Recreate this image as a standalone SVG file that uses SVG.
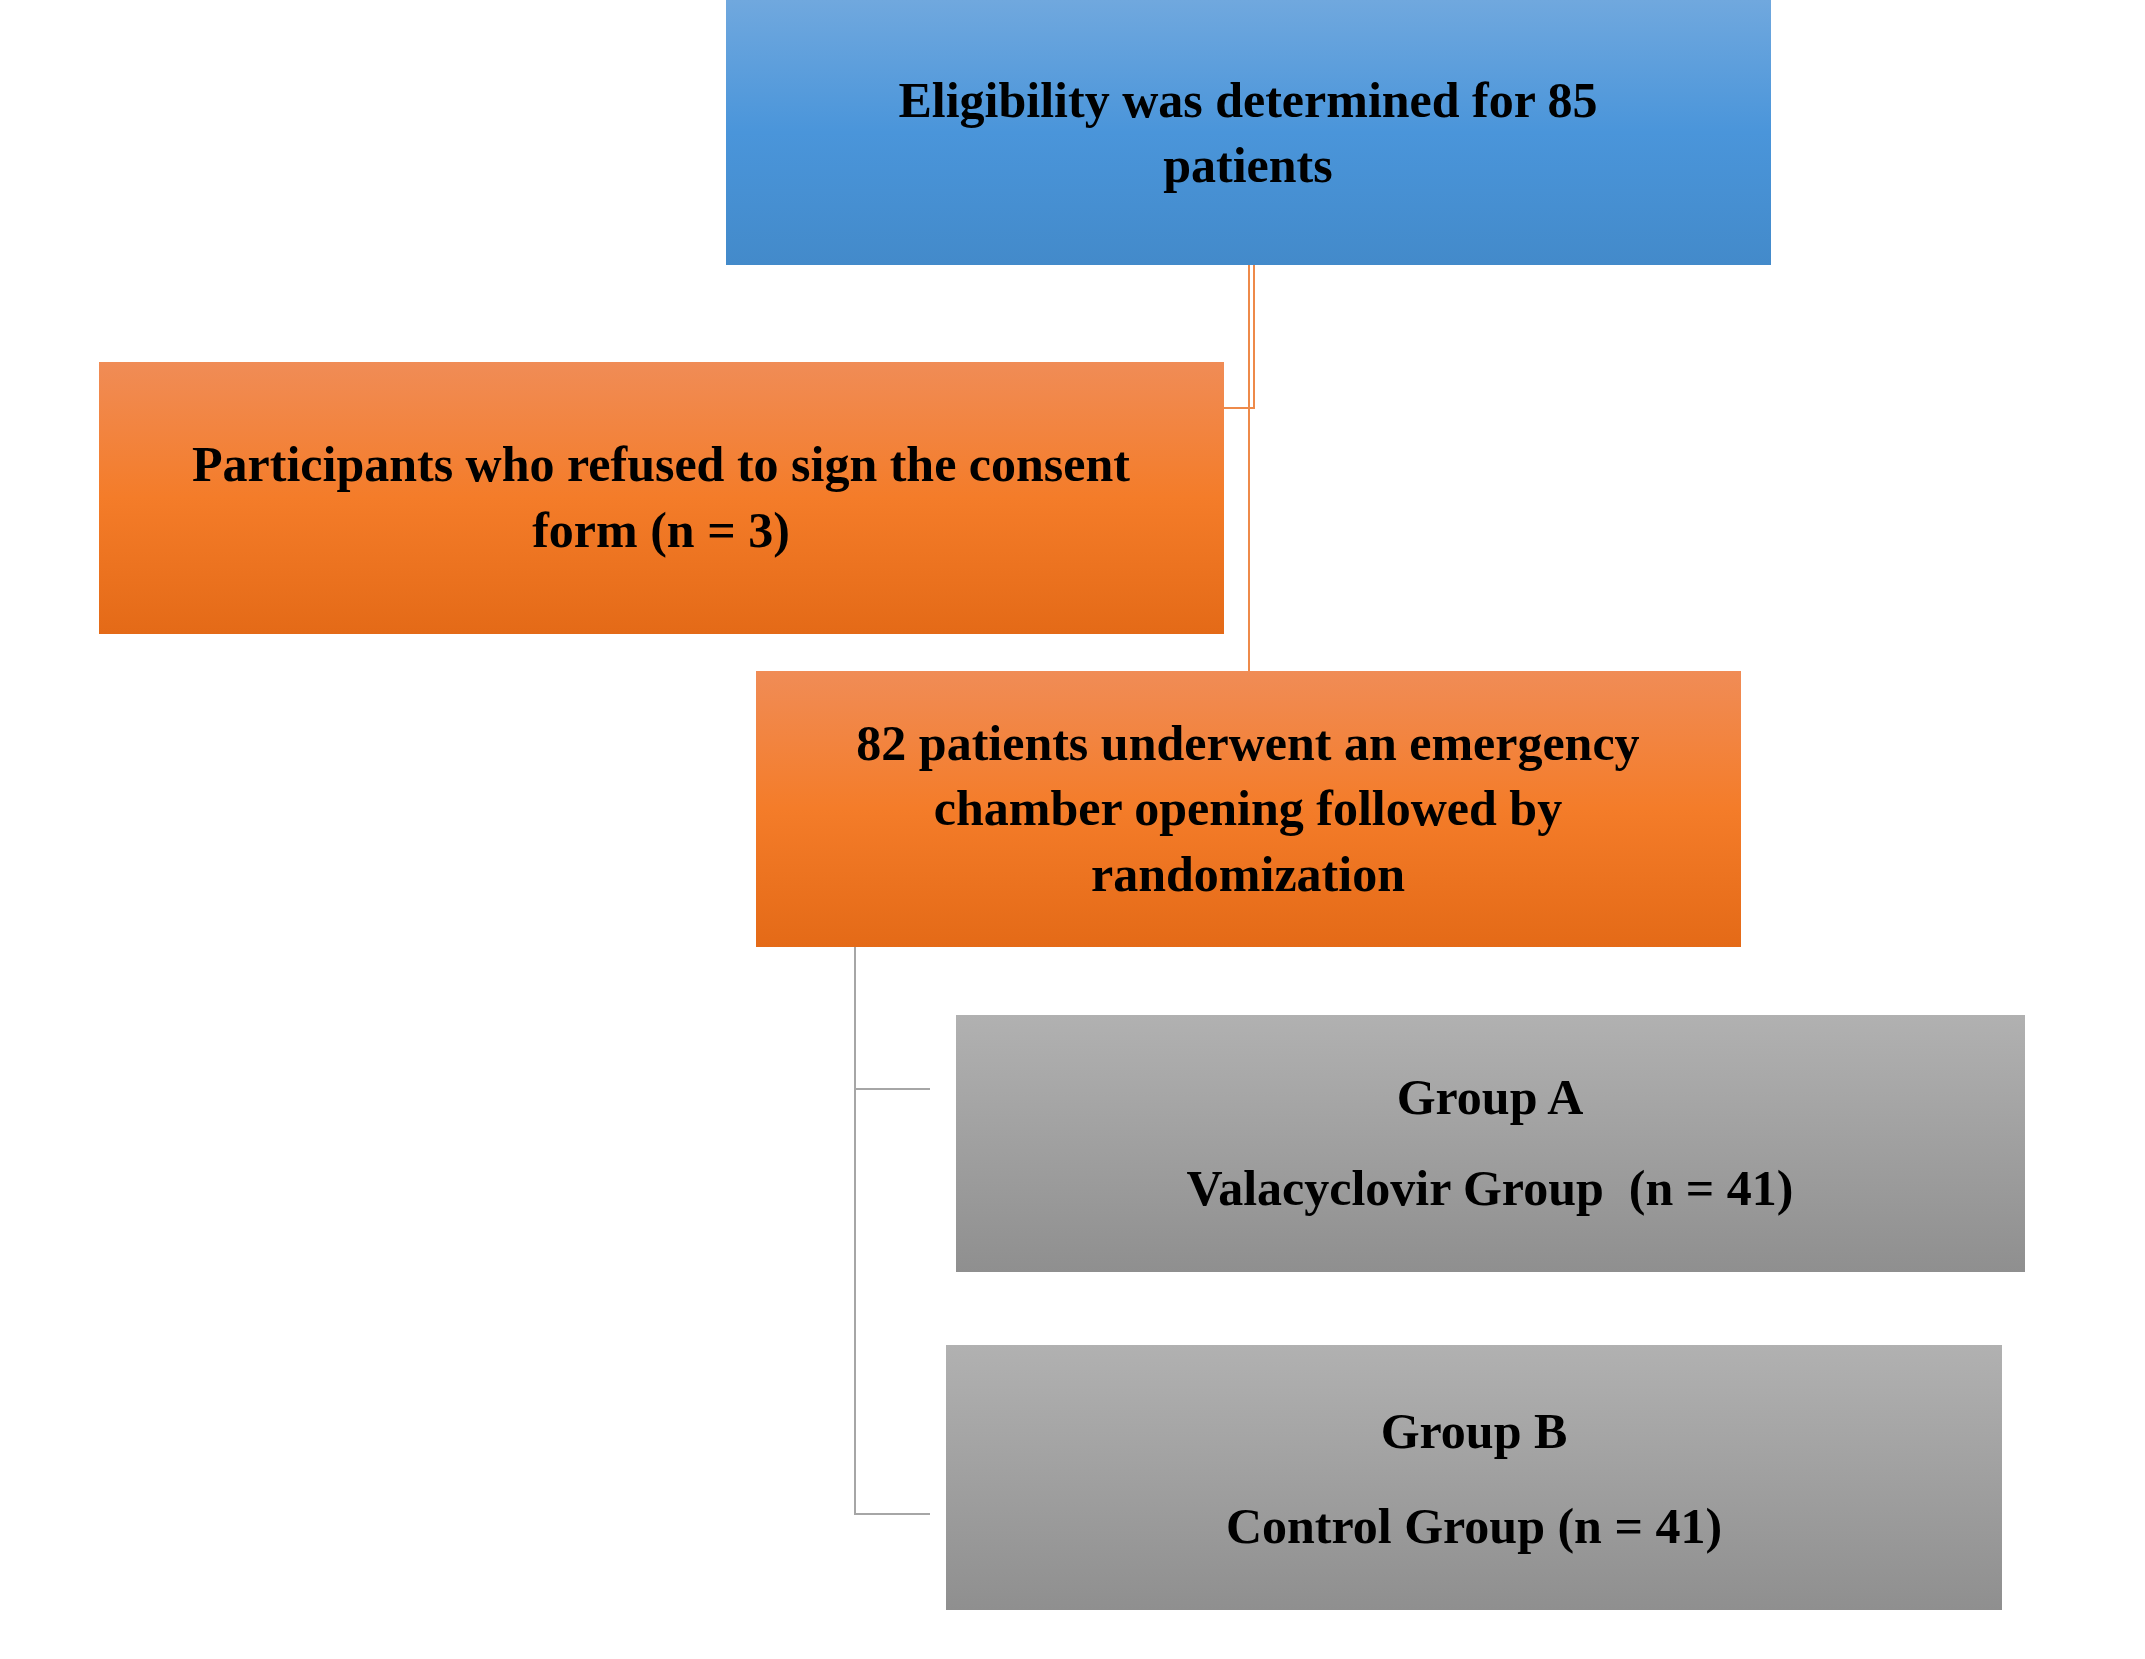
<svg xmlns="http://www.w3.org/2000/svg" width="2145" height="1659" viewBox="0 0 2145 1659">
<defs>
<linearGradient id="gb" x1="0" y1="0" x2="0" y2="1"><stop offset="0" stop-color="#70A8DE"/><stop offset="0.5" stop-color="#4A95DA"/><stop offset="1" stop-color="#438ACA"/></linearGradient>
<linearGradient id="go" x1="0" y1="0" x2="0" y2="1"><stop offset="0" stop-color="#F08C56"/><stop offset="0.5" stop-color="#F47C29"/><stop offset="1" stop-color="#E46A17"/></linearGradient>
<linearGradient id="gg" x1="0" y1="0" x2="0" y2="1"><stop offset="0" stop-color="#B1B1B1"/><stop offset="1" stop-color="#8F8F8F"/></linearGradient>
</defs>
<style>
text{font-family:"Liberation Serif","DejaVu Serif",serif;font-weight:bold;font-size:50px;fill:#000;text-anchor:middle}
.o{stroke:#EE8A4A;stroke-width:2;fill:none}
.g{stroke:#A6A6A6;stroke-width:2;fill:none}
</style>
<rect width="2145" height="1659" fill="#fff"/>
<g id="connectors">
<path class="o" d="M1249 265V406M1254 265V408H1224M1249 406V671"/>
<path class="g" d="M855 947V1514H930M855 1089H930"/>
</g>
<g id="n1"><rect x="726" y="0" width="1045" height="265" fill="url(#gb)"/>
<text x="1248" y="117">Eligibility was determined for 85</text><text x="1248" y="182">patients</text></g>
<g id="n2"><rect x="99" y="362" width="1125" height="272" fill="url(#go)"/>
<text x="661" y="481">Participants who refused to sign the consent</text><text x="661" y="547">form (n = 3)</text></g>
<g id="n3"><rect x="756" y="671" width="985" height="276" fill="url(#go)"/>
<text x="1248" y="760">82 patients underwent an emergency</text><text x="1248" y="825">chamber opening followed by</text><text x="1248" y="891">randomization</text></g>
<g id="n4"><rect x="956" y="1015" width="1069" height="257" fill="url(#gg)"/>
<text x="1490" y="1114">Group A</text><text x="1490" y="1205" xml:space="preserve">Valacyclovir Group  (n = 41)</text></g>
<g id="n5"><rect x="946" y="1345" width="1056" height="265" fill="url(#gg)"/>
<text x="1474" y="1448">Group B</text><text x="1474" y="1543">Control Group (n = 41)</text></g>
</svg>
